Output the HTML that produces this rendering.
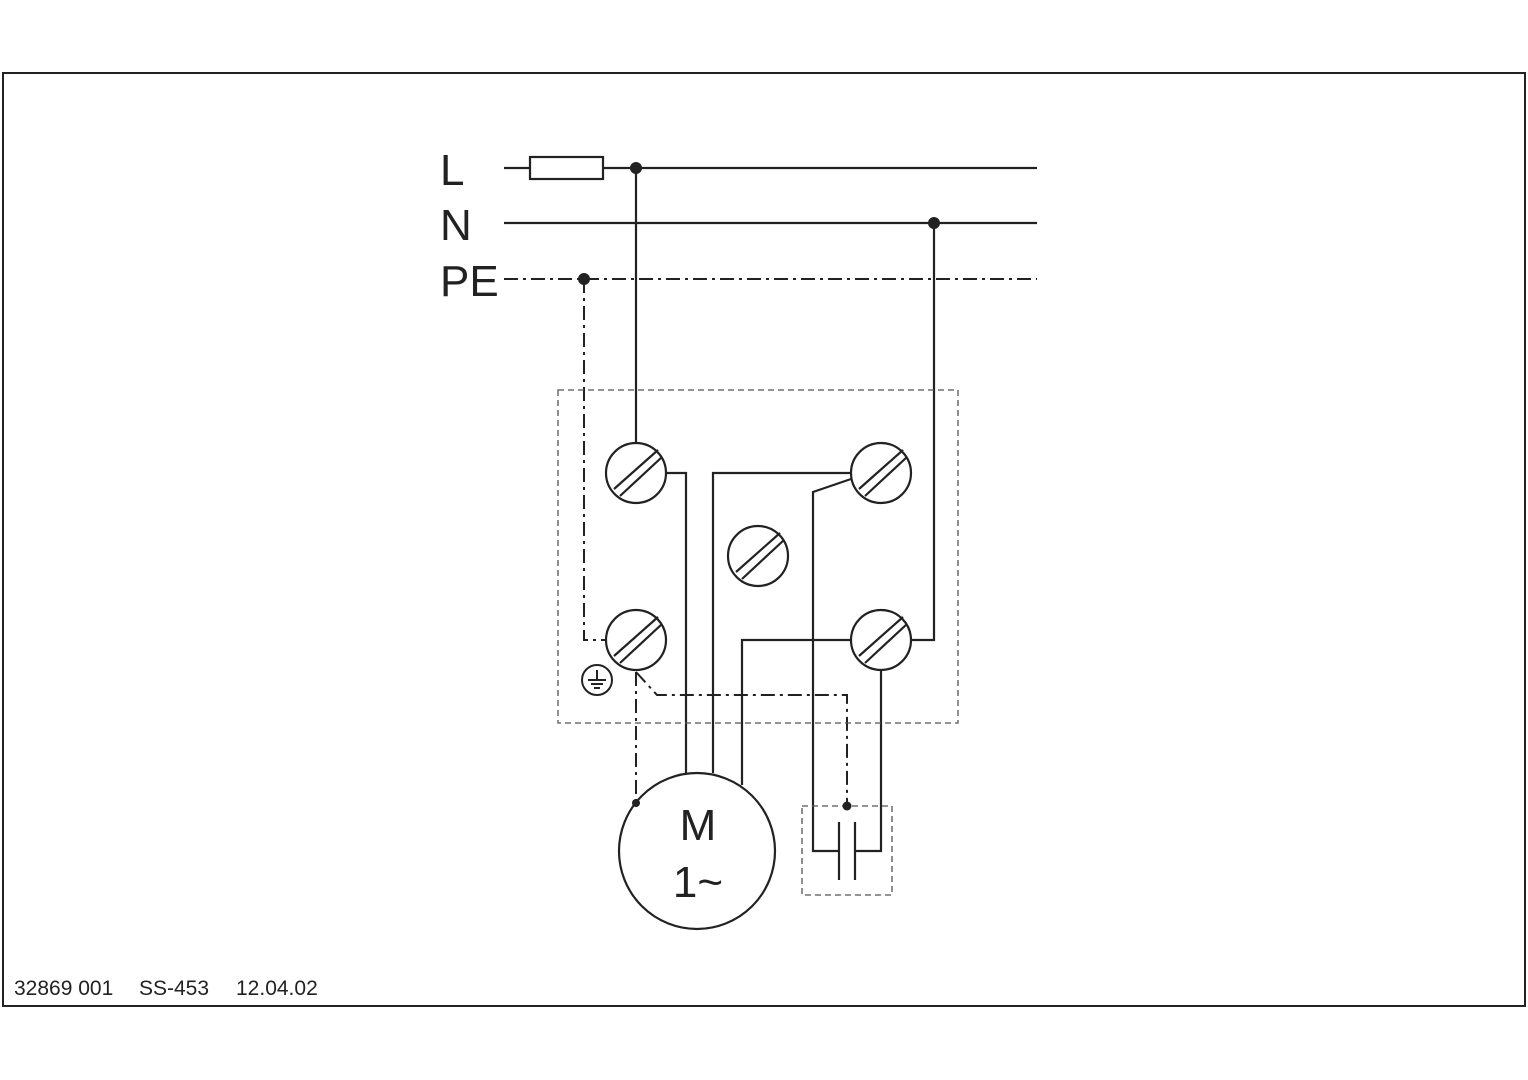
<!DOCTYPE html><html><head><style>body{margin:0;background:#fff}svg{display:block}</style></head><body>
<svg width="1528" height="1080" xmlns="http://www.w3.org/2000/svg" font-family="Liberation Sans, sans-serif">
<rect x="3" y="73" width="1522" height="933" fill="none" stroke="#222" stroke-width="2"/>
<g fill="#222" font-size="44">
<text x="440" y="185">L</text><text x="440" y="240">N</text><text x="440" y="296">PE</text>
</g>
<g font-size="21" fill="#222"><text x="14" y="995">32869 001</text><text x="139" y="995">SS-453</text><text x="236" y="995">12.04.02</text></g>
<g stroke="#222" stroke-width="2.2" fill="none">
<line x1="504" y1="168" x2="1037" y2="168"/>
<rect x="530" y="157" width="73" height="22" fill="#fff"/>
<line x1="504" y1="223" x2="1037" y2="223"/>
<line x1="636" y1="168" x2="636" y2="443"/>
<polyline points="934,223 934,640 911,640"/>
<polyline points="666,473 686,473 686,773"/>
<polyline points="713,773 713,473 851,473"/>
<polyline points="851,479 813,492 813,851 839,851"/>
<polyline points="851,640 742,640 742,785"/>
<polyline points="881,670 881,851 855,851"/>
<line x1="839" y1="822" x2="839" y2="880"/><line x1="855" y1="822" x2="855" y2="880"/>
<circle cx="697" cy="851" r="78"/>
</g>
<g stroke="#222" stroke-width="2" fill="none" stroke-dasharray="14,5,3,5">
<line x1="504" y1="279" x2="1037" y2="279"/>
<polyline points="584,279 584,640 606,640"/>
<line x1="636" y1="672" x2="636" y2="803"/>
<polyline points="636,672 657,695 847,695 847,806"/>
</g>
<g stroke="#555" stroke-width="1.3" fill="none" stroke-dasharray="6,4">
<rect x="558" y="390" width="400" height="333"/>
<rect x="802" y="806" width="90" height="89"/>
</g>
<g fill="#222"><circle cx="636" cy="168" r="6"/><circle cx="934" cy="223" r="6"/><circle cx="584" cy="279" r="6"/><circle cx="636" cy="803" r="4"/><circle cx="847" cy="806" r="4.5"/></g>
<g stroke="#222" stroke-width="2.2" fill="#fff">
<g id="t"><circle cx="636" cy="473" r="30"/><line x1="614" y1="489" x2="658" y2="450"/><line x1="620" y1="496" x2="662" y2="457"/></g>
<use href="#t" x="245"/><use href="#t" x="122" y="83"/><use href="#t" y="167"/><use href="#t" x="245" y="167"/>
</g>
<g stroke="#222" stroke-width="2" fill="none"><circle cx="597" cy="680" r="15"/>
<line x1="597" y1="670" x2="597" y2="680"/><line x1="588" y1="680" x2="606" y2="680"/><line x1="591" y1="684" x2="603" y2="684"/><line x1="594" y1="688" x2="600" y2="688"/></g>
<g fill="#222" font-size="44" text-anchor="middle"><text x="698" y="840">M</text><text x="698" y="897">1~</text></g>
</svg></body></html>
